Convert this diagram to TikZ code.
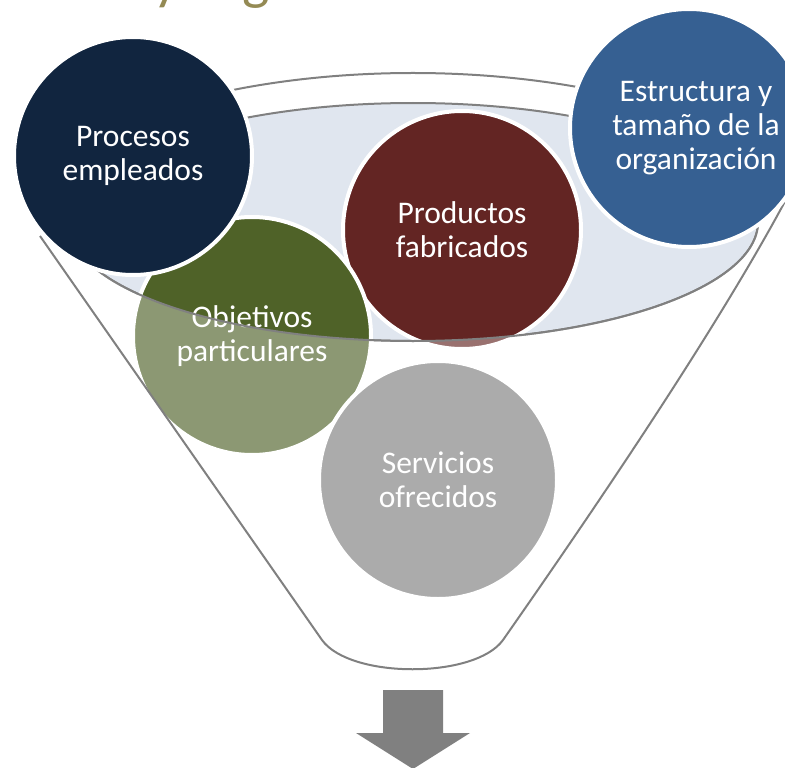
\documentclass[tikz,border=0pt]{standalone}
\usepackage{fontspec}
\setmainfont{Carlito}
\usetikzlibrary{positioning}
\definecolor{procNavy}{HTML}{11253F}
\definecolor{estBlue}{HTML}{366092}
\definecolor{prodRed}{HTML}{632523}
\definecolor{objGreen}{HTML}{4F6228}
\definecolor{servGray}{HTML}{7F7F7F}
\definecolor{openBlue}{HTML}{E0E6EF}
\definecolor{lineGray}{HTML}{808080}
\definecolor{titleOlive}{HTML}{948A54}

\begin{document}
\begin{tikzpicture}[x=1pt, y=-1pt,
  bubble/.style={circle, minimum size=238pt, inner sep=0pt, draw=white, line width=4pt,
    text=white, align=center, font=\fontsize{31.5}{34}\selectfont},
  bubbletext/.style={text=white, align=center, inner sep=0pt, font=\fontsize{31.5}{34}\selectfont},
  funnelline/.style={draw=lineGray, line width=2pt}]
\useasboundingbox (0,0) rectangle (785,768);
%Title (cut at the top)
\node [anchor=base west, inner sep=0pt, text=titleOlive, font=\fontsize{58}{60}\selectfont] (title) at (153,-1) {\llap{Procesos\ }y organizaciones};
%Funnel rim and opening
\draw[funnelline] (51.2,169.1) arc[start angle=200, end angle=360, x radius=385, y radius=146];
\draw[funnelline, fill=openBlue] (413,222) ellipse[x radius=345, y radius=119];
%Circles inside
\node[bubble, fill=prodRed] (productos) at (462,230) {Productos\\fabricados};
\node[bubble, fill=objGreen] (objetivos) at (252,336) {Objetivos\\particulares};
\node[bubble, fill=servGray] (servicios) at (438,480) {Servicios\\ofrecidos};
%Glass front
\fill[white, fill opacity=0.35] (28,219) -- (322,640) .. controls (350,679) and (475,679) .. (503,640)
  .. controls (589,517) and (720,325) .. (790,192) -- (758,222)
  arc[start angle=0, end angle=180, x radius=345, y radius=119] -- cycle;
\draw[funnelline] (40,236) -- (322,640) .. controls (350,679) and (475,679) .. (503,640)
  .. controls (589,517) and (720,325) .. (790,192);
\draw[funnelline] (758,222) arc[start angle=0, end angle=180, x radius=345, y radius=119];
%Circles on top
\node[bubble, fill=procNavy] (procesos) at (133,156) {Procesos\\empleados};
\node[bubble, fill=estBlue] (estructura) at (689,128) {};
\node[bubbletext] (estructuratext) at ([xshift=7pt]estructura.center) {Estructura y\\tamaño de la\\organización};
%Arrow
\fill[lineGray] (383,690) -- (443,690) -- (443,733) -- (470,733) -- (413,769) -- (356,733) -- (383,733) -- cycle;
\end{tikzpicture}
\end{document}
